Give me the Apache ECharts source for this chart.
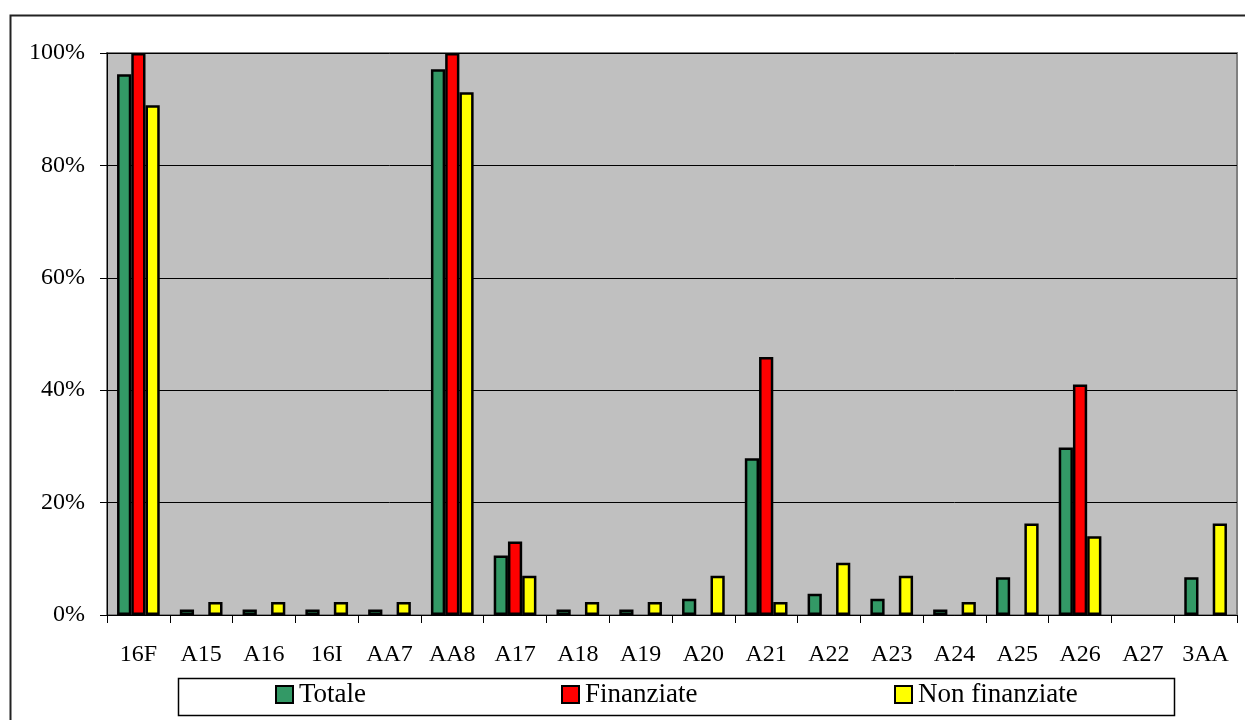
<!DOCTYPE html>
<html>
<head>
<meta charset="utf-8">
<script src="https://cdn.jsdelivr.net/npm/echarts@6/dist/echarts.min.js"></script>
<style>
  html, body { margin: 0; padding: 0; background: #ffffff; }
  #chart { width: 1245px; height: 720px; }
</style>
</head>
<body>
<div id="chart"></div>
<script>
// Categories along the x axis
const categories = ['16F', 'A15', 'A16', '16I', 'AA7', 'AA8', 'A17', 'A18', 'A19',
  'A20', 'A21', 'A22', 'A23', 'A24', 'A25', 'A26', 'A27', '3AA'];

// Percentages per category (null = no bar)
const totale = [96.2, 1.0, 1.0, 1.0, 1.0, 97.1, 10.6, 1.0, 1.0,
  2.9, 27.9, 3.8, 2.9, 1.0, 6.7, 29.8, null, 6.7];
const finanziate = [100, null, null, null, null, 100, 13.1, null, null,
  null, 45.9, null, null, null, null, 41.0, null, null];
const nonFinanziate = [90.7, 2.3, 2.3, 2.3, 2.3, 93.0, 7.0, 2.3, 2.3,
  7.0, 2.3, 9.3, 7.0, 2.3, 16.3, 14.0, null, 16.3];

const seriesNames = ['Totale', 'Finanziate', 'Non finanziate'];
const seriesColors = ['#339966', '#FF0000', '#FFFF00'];

// Y axis ticks
const yMin = 0, yMax = 100, yStep = 20;

const FONT = '"Liberation Serif", "Times New Roman", serif';

const chart = echarts.init(document.getElementById('chart'), null, { renderer: 'canvas' });

function barSeries(name, data, color) {
  return {
    name: name,
    type: 'bar',
    data: data,
    barGap: '0%',
    barCategoryGap: '32%',
    itemStyle: { color: color, borderColor: '#000000', borderWidth: 2.5 },
    emphasis: { disabled: true }
  };
}

function legendAt(name, left) {
  return {
    data: [name],
    left: left,
    top: 681,
    padding: 0,
    itemWidth: 17,
    itemHeight: 17,
    icon: 'rect',
    selectedMode: false,
    textStyle: { fontFamily: FONT, fontSize: 27, color: '#000000', padding: [0, 0, 0, 1] }
  };
}

const option = {
  backgroundColor: '#ffffff',
  animation: false,
  grid: {
    left: 107,
    right: 8,
    top: 53,
    bottom: 105,
    show: true,
    backgroundColor: '#C0C0C0',
    borderColor: '#808080',
    borderWidth: 2
  },
  legend: [
    legendAt('Totale', 275),
    legendAt('Finanziate', 561),
    legendAt('Non finanziate', 894)
  ],
  xAxis: {
    type: 'category',
    data: categories,
    axisLine: { lineStyle: { color: '#000000', width: 1 } },
    axisTick: { show: true, length: 8, inside: false, lineStyle: { color: '#000000' } },
    axisLabel: {
      interval: 0,
      margin: 28,
      fontFamily: FONT,
      fontSize: 24,
      color: '#000000'
    }
  },
  yAxis: {
    type: 'value',
    min: yMin,
    max: yMax,
    interval: yStep,
    axisLine: { show: true, lineStyle: { color: '#000000', width: 1 } },
    axisTick: { show: true, length: 7, lineStyle: { color: '#000000' } },
    splitLine: { show: true, lineStyle: { color: '#000000', width: 1 } },
    axisLabel: {
      formatter: '{value}%',
      margin: 22,
      fontFamily: FONT,
      fontSize: 24,
      color: '#000000'
    }
  },
  series: [
    barSeries(seriesNames[0], totale, seriesColors[0]),
    barSeries(seriesNames[1], finanziate, seriesColors[1]),
    barSeries(seriesNames[2], nonFinanziate, seriesColors[2])
  ],
  graphic: [
    // outer chart frame
    {
      type: 'rect',
      left: 8, top: 13,
      shape: { width: 1300, height: 800 },
      style: { fill: 'none', stroke: '#222222', lineWidth: 2 },
      silent: true, z: 10
    },
    // legend box
    {
      type: 'rect',
      left: 176, top: 676,
      shape: { width: 996, height: 37 },
      style: { fill: 'none', stroke: '#000000', lineWidth: 1.5 },
      silent: true, z: 10
    }
  ]
};

chart.setOption(option);
</script>
</body>
</html>
